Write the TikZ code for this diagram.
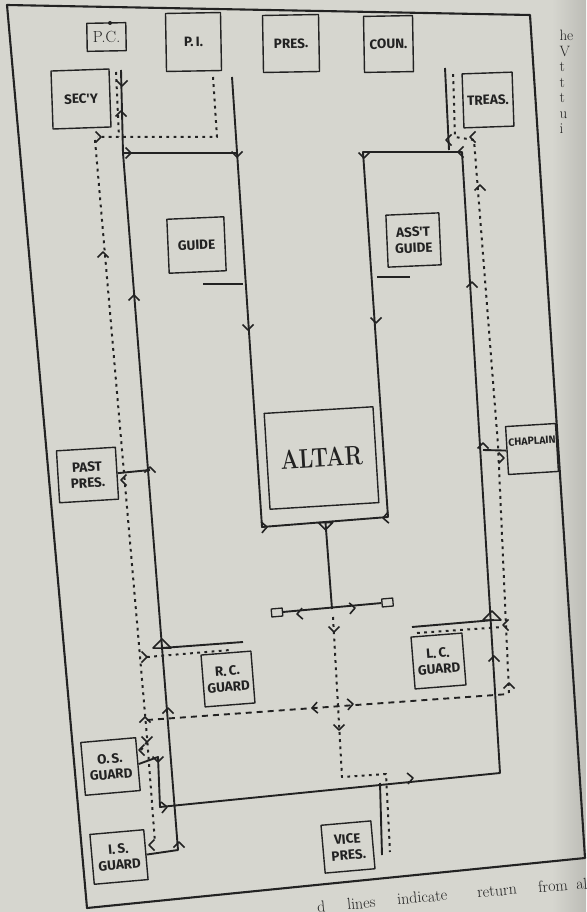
\documentclass[tikz,border=0pt]{standalone}
\usepackage{fontspec}
\usepackage{tikz}
\usetikzlibrary{calc}

\newfontfamily\stationfont{Fira Sans}
\definecolor{paper}{RGB}{214,214,207}
\definecolor{ink}{RGB}{34,34,34}

\begin{document}
\begin{tikzpicture}[x=1pt,y=-1pt,line join=round,
    march/.style={ink,line width=1.9pt},
    back/.style={ink,line width=2pt,dash pattern=on 2.8pt off 4.4pt},
    sweep/.style={ink,line width=1.9pt,dash pattern=on 6pt off 5pt},
    officer/.style={draw=ink,line width=1.4pt,text=ink,inner sep=0pt,align=center,
      font=\stationfont\bfseries\fontsize{13.5}{16}\selectfont},
    stub/.style={draw=ink,line width=1.3pt,minimum width=11pt,minimum height=8pt,inner sep=0pt},
    chev/.pic={\draw[ink,line width=1.6pt] (-5.5,-5.5) -- (0,0) -- (-5.5,5.5);},
    tri/.pic={\draw[ink,line width=1.5pt] (0,-9) -- (-9,0) -- (9,0) -- cycle;}]
  \useasboundingbox (0,0) rectangle (586,912);
  \fill[paper] (0,0) rectangle (586,912);
  \shade[left color=paper,right color=paper!88!black] (552,0) rectangle (586,912);

  % the lodge room
  \draw[march,line width=2.1pt] (7,5) -- (530,15) -- (585,858) -- (87,908) -- cycle;

  % stations
  \node[officer,minimum width=39pt,minimum height=28pt,rotate=1,
    font=\rmfamily\fontsize{16}{16}\selectfont] (pc) at (106.5,37) {P.C.};
  \fill[ink] (110,23) circle (2pt);
  \node[officer,minimum width=55pt,minimum height=58pt,rotate=1] (pi) at (193.5,42) {P.\,I.};
  \node[officer,minimum width=56pt,minimum height=57pt,rotate=1] (pres) at (291,43.5) {PRES.};
  \node[officer,minimum width=49pt,minimum height=56pt,rotate=1] (coun) at (388.5,44) {COUN.};
  \node[officer,minimum width=58pt,minimum height=58pt,rotate=2] (secy) at (81,99) {SEC'Y};
  \node[officer,minimum width=50pt,minimum height=54pt,rotate=2] (treas) at (488,100) {TREAS.};
  \node[officer,minimum width=57pt,minimum height=54pt,rotate=2.5] (guide) at (196.5,245) {GUIDE};
  \node[officer,minimum width=53pt,minimum height=52pt,rotate=2.5] (asst) at (413.5,240) {ASS'T\\GUIDE};
  \node[officer,minimum width=109pt,minimum height=96pt,rotate=3.5,
    font=\rmfamily\bfseries\fontsize{27}{28}\selectfont] (altar) at (321.5,458) {\scalebox{0.8}[1]{ALTAR}};
  \node[officer,minimum width=59pt,minimum height=52pt,rotate=3.5] (pastpres) at (87.5,475) {PAST\\PRES.};
  \node[officer,minimum width=50pt,minimum height=48pt,rotate=3.5] (chaplain) at (532,449) {};
  \node[ink,rotate=3.5,font=\stationfont\bfseries\fontsize{10.5}{10}\selectfont] (chaplainname)
    at ([yshift=8pt]chaplain.center) {CHAPLAIN};
  \node[officer,minimum width=50pt,minimum height=52pt,rotate=4.5] (rc) at (228,679) {R.\,C.\\GUARD};
  \node[officer,minimum width=51pt,minimum height=52pt,rotate=4.5] (lc) at (438.5,661) {L.\,C.\\GUARD};
  \node[officer,minimum width=55pt,minimum height=53pt,rotate=5] (os) at (110.5,766.5) {O.\,S.\\GUARD};
  \node[officer,minimum width=54pt,minimum height=50pt,rotate=5] (is) at (119,857) {I.\,S.\\GUARD};
  \node[officer,minimum width=50pt,minimum height=48pt,rotate=5] (vp) at (348,847) {VICE\\PRES.};
  \node[stub,rotate=5] (lstub) at (277,612.5) {};
  \node[stub,rotate=5] (rstub) at (387.5,602.5) {};

  % turning points of the march
  \coordinate (nw) at (123,153);
  \coordinate (ne) at (462,152);
  \coordinate (sw) at (160,807);
  \coordinate (se) at (500,773);
  \coordinate (altl) at (262,527);
  \coordinate (altr) at (388,517);
  \coordinate (altm) at (325.5,522.5);
  \coordinate (tee) at (332,609);

  % solid lines: the march
  \draw[march] (121,70) -- (nw) -- (237,153);
  \draw[march] (232,77) -- (altl) -- (altr) -- (363,152) -- (ne) -- (se) -- (sw) -- (158,757) -- (os.east);
  \draw[march] (nw) -- (178,850) -- (is.east);
  \draw[march] (pastpres.east) -- (150,470);
  \draw[march] (162,648) -- (243,642);
  \draw[march] (412,627) -- (494,620);
  \draw[march] (483,450) -- (chaplain.west);
  \draw[march] (445,68) -- (449,150);
  \draw[march] (altm) -- (tee);
  \draw[march] (lstub.east) -- (rstub.west);
  \draw[march] (380,783) -- (382,855);
  \draw[march] (203,284) -- (243,284);
  \draw[march] (377,277) -- (410,277);

  % dotted lines: the return
  \draw[back] (116,72) -- (119,137);
  \draw[back] (213,77) -- (217,137) -- (97,137);
  \draw[back] (95,140) -- (147,737) -- (155,843);
  \draw[back] (147,742) -- (141,750);
  \draw[back] (147,657) -- (230,650);
  \draw[back] (417,633) -- (503,627);
  \draw[back] (509,693) -- (498,445) -- (474,140) -- (455,137) -- (453,70);
  \draw[back] (tee) ++(1,8) -- (342,777) -- (386,774) -- (390,852);
  \draw[sweep] (147,720) -- (509,694);

  % arrow heads
  \foreach \x/\y/\a in {122/86/-90, 121/111/90, 131/153/0, 237/157/-90, 248/330/-90,
      134/295/90, 150/467/90, 168/708/90, 179/842/90, 267/527/4, 383/518/184,
      297/614/184, 355/608/4, 458/152/180, 364/158/-90, 376/323/-90, 472/282/90,
      483/443/90, 494/656/90, 158/762/-90, 167/807/5, 413/778/5, 446/140/180,
      101/137/0, 103/252/90, 121/480/180, 147/657/0, 145/717/90, 147/742/-90,
      139/750/180, 149/845/180, 312/708/184, 353/704/4, 334/632/-90, 339/730/-90,
      480/185/90, 504/458/0, 503/625/180, 509/683/90, 470/137/180}
    \pic[rotate=\a] at (\x,\y) {chev};
  \pic at (162,648) {tri};
  \pic at (492,620) {tri};
  \pic[rotate=180,scale=0.8] at (altm) {tri};

  % neighbouring page and caption
  \foreach \t [count=\i] in {he,V,t,t,t,u,i}
    \node[ink,anchor=base west,font=\rmfamily\fontsize{15}{15}\selectfont] at (556,41+15.5*\i-15.5) {\t};
  \begin{scope}[ink,font=\rmfamily\fontsize{16}{16}\selectfont]
    \node[anchor=base west,rotate=5] (w1) at (314,913) {d};
    \node[anchor=base west,rotate=5] (w2) at (344,910) {lines};
    \node[anchor=base west,rotate=5] (w3) at (394,905) {indicate};
    \node[anchor=base west,rotate=5] (w4) at (474,898) {return};
    \node[anchor=base west,rotate=5] (w5) at (535,893) {from};
    \node[anchor=base west,rotate=5] (w6) at (573,890) {al};
  \end{scope}
\end{tikzpicture}
\end{document}
